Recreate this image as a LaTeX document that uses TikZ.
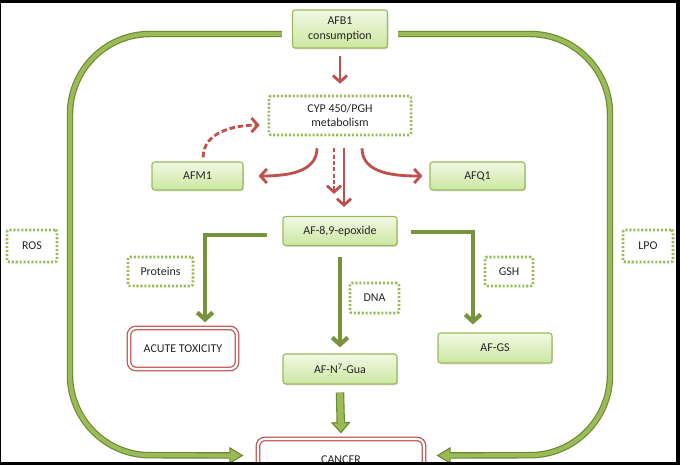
\documentclass[tikz,border=0pt]{standalone}
\usepackage{fontspec}
\setmainfont{Carlito}
\usetikzlibrary{arrows.meta,shadows}
\definecolor{boxgreen}{HTML}{9BBB59}
\definecolor{boxtop}{HTML}{F1F9E4}
\definecolor{boxbottom}{HTML}{CBE7A0}
\definecolor{linegreen}{HTML}{77933C}
\definecolor{loopdark}{HTML}{68892C}
\definecolor{loopgreen}{HTML}{9BBB59}
\definecolor{pathred}{HTML}{C0504D}
\tikzset{
  every node/.style={font=\fontsize{8.5}{10.5}\selectfont, text=black!85},
  greenbox/.style={draw=boxgreen, line width=0.8pt, rounded corners=2pt, top color=boxtop, bottom color=boxbottom,
    drop shadow={shadow xshift=0.6pt, shadow yshift=-0.9pt, opacity=0.25, fill=black!60}, align=center, inner sep=2pt},
  dotbox/.style={draw=boxgreen, line width=1.8pt, dash pattern=on 1.5pt off 1.3pt, rounded corners=1.5pt, fill=white, align=center},
  redbox/.style={draw=pathred, line width=0.9pt, double=white, double distance=1.6pt, rounded corners=5pt, fill=white},
  redarrow/.style={pathred, line width=2pt, -{Straight Barb[length=4.5pt,width=10pt]}},
  greenarrow/.style={linegreen, line width=3pt, -{Straight Barb[length=5pt,width=11pt]}}
}
\newcommand{\loopline}[1]{
    \draw[loopdark, line width=4.6pt, rounded corners=2cm, -{Triangle[length=10pt,width=12pt,line width=0.8pt,fill=loopgreen]}] #1;
    \draw[loopgreen, line width=3pt, rounded corners=2cm, shorten >=9pt] #1;
}
\begin{document}
\begin{tikzpicture}[x=0.025cm, y=-0.025cm]
        \useasboundingbox (0,0) rectangle (680,465);
        \fill[black] (0,0) rectangle (680,465);
        \fill[white] (1,3) rectangle (676,462);
        \node[greenbox, minimum width=2.375cm, minimum height=0.95cm] (afb) at (340,29) {AFB1\\consumption};
        \node[dotbox, minimum width=3.55cm, minimum height=0.975cm] (cyp) at (340,115.5) {CYP 450/PGH\\metabolism};
        \node[greenbox, minimum width=2.275cm, minimum height=0.7cm] (afm) at (197.5,176) {AFM1};
        \node[greenbox, minimum width=2.375cm, minimum height=0.7cm] (afq) at (477.5,176) {AFQ1};
        \node[greenbox, minimum width=2.85cm, minimum height=0.725cm] (epox) at (340,231) {AF-8,9-epoxide};
        \node[dotbox, minimum width=1.625cm, minimum height=0.725cm] (prot) at (160.5,271.5) {Proteins};
        \node[dotbox, minimum width=1.225cm, minimum height=0.75cm] (dna) at (374.5,298) {DNA};
        \node[dotbox, minimum width=1.2cm, minimum height=0.725cm] (gsh) at (509,271.5) {GSH};
        \node[redbox, minimum width=2.7cm, minimum height=1.025cm] (acute) at (183,348.5) {ACUTE TOXICITY};
        \node[greenbox, minimum width=2.85cm, minimum height=0.75cm] (afn) at (340,369) {AF-N\textsuperscript{7}-Gua};
        \node[greenbox, minimum width=2.85cm, minimum height=0.75cm] (afgs) at (495,348) {AF-GS};
        \node[redbox, minimum width=4.15cm, minimum height=1.025cm] (cancer) at (341,459.5) {CANCER};
        \node[dotbox, minimum width=1.25cm, minimum height=0.8cm] (ros) at (32,246) {ROS};
        \node[dotbox, minimum width=1.25cm, minimum height=0.8cm] (lpo) at (648,246) {LPO};
        \draw[redarrow] ([yshift=-0.175cm]afb.south) -- ([yshift=0.275cm]cyp.north);
        \draw[redarrow, dash pattern=on 4pt off 2pt] ([xshift=0.14cm,yshift=0.1cm]afm.north) to[out=90,in=180] ([xshift=-0.2cm,yshift=-0.24cm]cyp.west);
        \draw[redarrow] ([xshift=-0.575cm,yshift=-0.3cm]cyp.south) to[out=-90,in=0] ([xshift=0.375cm]afm.east);
        \draw[redarrow] ([xshift=0.55cm,yshift=-0.3cm]cyp.south) to[out=-90,in=180] ([xshift=-0.175cm]afq.west);
        \draw[redarrow, dash pattern=on 3pt off 1.5pt] ([xshift=-0.15cm,yshift=-0.3cm]cyp.south) -- ([xshift=-0.15cm,yshift=0.55cm]epox.north);
        \draw[redarrow] ([xshift=0.1cm,yshift=-0.3cm]cyp.south) -- ([xshift=0.1cm,yshift=0.225cm]epox.north);
        \draw[greenarrow] ([xshift=-0.375cm,yshift=-0.1cm]epox.west) -| ([xshift=0.55cm,yshift=0.125cm]acute.north);
        \draw[greenarrow] ([xshift=0.325cm,yshift=-0.025cm]epox.east) -| ([xshift=-0.55cm,yshift=0.2cm]afgs.north);
        \draw[greenarrow] ([yshift=-0.275cm]epox.south) -- ([yshift=0.15cm]afn.north);
        \draw[loopdark, line width=6pt, -{Triangle[length=8pt,width=14pt,line width=0.8pt,fill=loopgreen]}] ([yshift=-0.2cm]afn.south) -- ([yshift=0.125cm]cancer.north);
        \draw[loopgreen, line width=4.4pt, shorten >=7pt] ([yshift=-0.2cm]afn.south) -- ([yshift=0.125cm]cancer.north);
        \loopline{([xshift=-0.25cm,yshift=-0.125cm]afb.west) -| (70,455) -- ([xshift=-0.35cm,yshift=0.1cm]cancer.west)}
        \loopline{([xshift=0.25cm,yshift=-0.125cm]afb.east) -| (610,455) -- ([xshift=0.3cm,yshift=0.1cm]cancer.east)}
        \fill[black] (0,462) rectangle (680,465);
    \end{tikzpicture}
\end{document}
